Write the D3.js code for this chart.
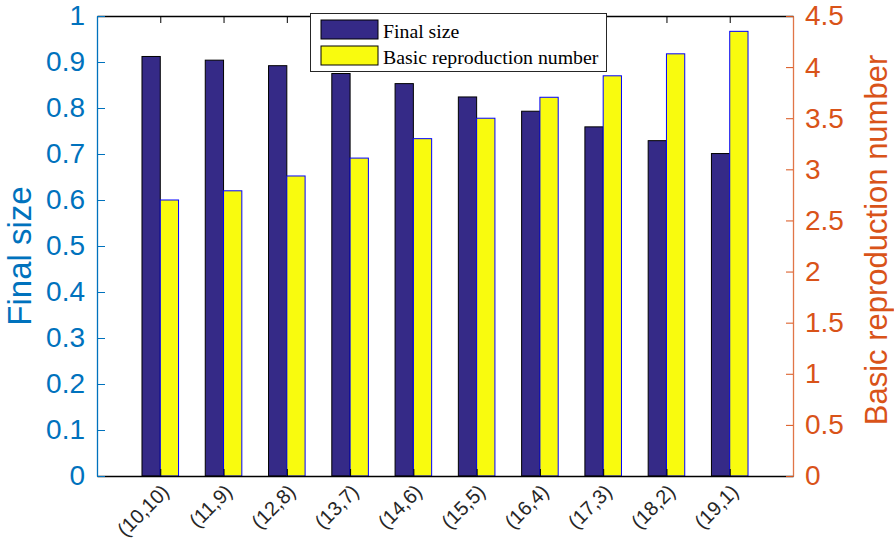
<!DOCTYPE html>
<html>
<head>
<meta charset="utf-8">
<script src="https://cdn.jsdelivr.net/npm/d3@7"></script>
<style>
  html, body { margin: 0; padding: 0; background: #fff; }
  svg { display: block; }
</style>
</head>
<body>
<svg id="chart" width="894" height="542"></svg>
<script>
// Population splits (group sizes) on the x axis
const categories = ["(10,10)", "(11,9)", "(12,8)", "(13,7)", "(14,6)", "(15,5)", "(16,4)", "(17,3)", "(18,2)", "(19,1)"];
// Final epidemic size (left axis)
const finalSize = [0.912, 0.904, 0.892, 0.875, 0.853, 0.824, 0.793, 0.759, 0.729, 0.701];
// Basic reproduction number R0 (right axis)
const basicR0 = [2.70, 2.79, 2.935, 3.11, 3.30, 3.50, 3.705, 3.915, 4.13, 4.35];
// Axis ticks
const leftTicks = [0, 0.1, 0.2, 0.3, 0.4, 0.5, 0.6, 0.7, 0.8, 0.9, 1];
const rightTicks = [0, 0.5, 1, 1.5, 2, 2.5, 3, 3.5, 4, 4.5];
const seriesNames = ["Final size", "Basic reproduction number"];

const svg = d3.select("#chart");
const plotL = 97, plotR = 793, plotT = 16, plotB = 476;

const blue = "#0072BD", orange = "#D95319";
const barDark = "#352a87", barYellow = "#f9fb0e";

// Categories sit at positions 1..10 of a 0..11 axis
const x = d3.scaleLinear().domain([0, categories.length + 1]).range([plotL, plotR]);
const yL = d3.scaleLinear().domain([0, 1]).range([plotB, plotT]);
const yR = d3.scaleLinear().domain([0, 4.5]).range([plotB, plotT]);
const barW = x(0.289) - x(0);
const sub = d3.scaleBand().domain(["size", "r0"]).range([-barW, barW]);

// Bars
const g = svg.append("g");
categories.forEach((c, i) => {
  const cx = x(i + 1);
  g.append("rect")
    .attr("x", cx + sub("size"))
    .attr("y", yL(finalSize[i]))
    .attr("width", sub.bandwidth())
    .attr("height", yL(0) - yL(finalSize[i]))
    .attr("fill", barDark)
    .attr("stroke", "#000")
    .attr("stroke-width", 1);
  g.append("rect")
    .attr("x", cx + sub("r0"))
    .attr("y", yR(basicR0[i]))
    .attr("width", sub.bandwidth())
    .attr("height", yR(0) - yR(basicR0[i]))
    .attr("fill", barYellow)
    .attr("stroke", "#0000ff")
    .attr("stroke-width", 1);
});

// Box: top and bottom black lines with inward category ticks
const xTickVals = categories.map((c, i) => i + 1);
const axB = svg.append("g").attr("transform", `translate(0,${plotB})`)
  .call(d3.axisBottom(x).tickValues(xTickVals).tickSizeInner(-7).tickSizeOuter(0).tickFormat(""));
const axT = svg.append("g").attr("transform", `translate(0,${plotT})`)
  .call(d3.axisTop(x).tickValues(xTickVals).tickSizeInner(-7).tickSizeOuter(0).tickFormat(""));
[axB, axT].forEach(a => {
  a.select(".domain").attr("stroke", "#000").attr("stroke-width", 1.3);
  a.selectAll(".tick line").attr("stroke", "#000");
});

// Rotated category labels
svg.append("g").selectAll("text").data(categories).join("text")
  .attr("transform", (d, i) => `translate(${x(i + 1) + 5},${plotB + 12}) rotate(-45)`)
  .attr("text-anchor", "end")
  .attr("dy", "0.35em")
  .attr("font-family", "Liberation Sans, Arial, sans-serif")
  .attr("font-size", 20)
  .attr("fill", "#262626")
  .text(d => d);

// Left axis
const axL = svg.append("g").attr("transform", `translate(${plotL},0)`)
  .call(d3.axisLeft(yL).tickValues(leftTicks).tickSizeInner(-8).tickSizeOuter(0).tickPadding(12)
    .tickFormat(d => d3.format("~g")(d)));
axL.select(".domain").attr("stroke", blue).attr("stroke-width", 1.3);
axL.selectAll(".tick line").attr("stroke", blue);
axL.selectAll(".tick text").attr("fill", blue)
  .attr("font-family", "Liberation Sans, Arial, sans-serif").attr("font-size", 28);

// Right axis
const axR = svg.append("g").attr("transform", `translate(${plotR},0)`)
  .call(d3.axisRight(yR).tickValues(rightTicks).tickSizeInner(-7).tickSizeOuter(0).tickPadding(12)
    .tickFormat(d => d3.format("~g")(d)));
axR.select(".domain").attr("stroke", orange).attr("stroke-width", 1.3).attr("stroke-opacity", 0.8);
axR.selectAll(".tick line").attr("stroke", orange);
axR.selectAll(".tick text").attr("fill", orange)
  .attr("font-family", "Liberation Sans, Arial, sans-serif").attr("font-size", 28);

// Axis titles
svg.append("text")
  .attr("transform", `translate(31,256) rotate(-90)`)
  .attr("text-anchor", "middle")
  .attr("font-family", "Liberation Sans, Arial, sans-serif")
  .attr("font-size", 33)
  .attr("fill", blue)
  .text("Final size");
svg.append("text")
  .attr("transform", `translate(887,240) rotate(-90)`)
  .attr("text-anchor", "middle")
  .attr("font-family", "Liberation Sans, Arial, sans-serif")
  .attr("font-size", 31)
  .attr("fill", orange)
  .text("Basic reproduction number");

// Legend
const lg = svg.append("g");
lg.append("rect").attr("x", 310.5).attr("y", 13.5).attr("width", 296).attr("height", 58)
  .attr("fill", "#fff").attr("stroke", "#262626").attr("stroke-width", 1);
[barDark, barYellow].forEach((col, i) => {
  lg.append("rect").attr("x", 321).attr("y", 20 + i * 26).attr("width", 57).attr("height", 19)
    .attr("fill", col).attr("stroke", "#000").attr("stroke-width", 1);
  lg.append("text").attr("x", 383).attr("y", 38 + i * 26)
    .attr("font-family", "Liberation Serif, Times New Roman, serif")
    .attr("font-size", 19.8).attr("fill", "#000")
    .text(seriesNames[i]);
});
</script>
</body>
</html>
